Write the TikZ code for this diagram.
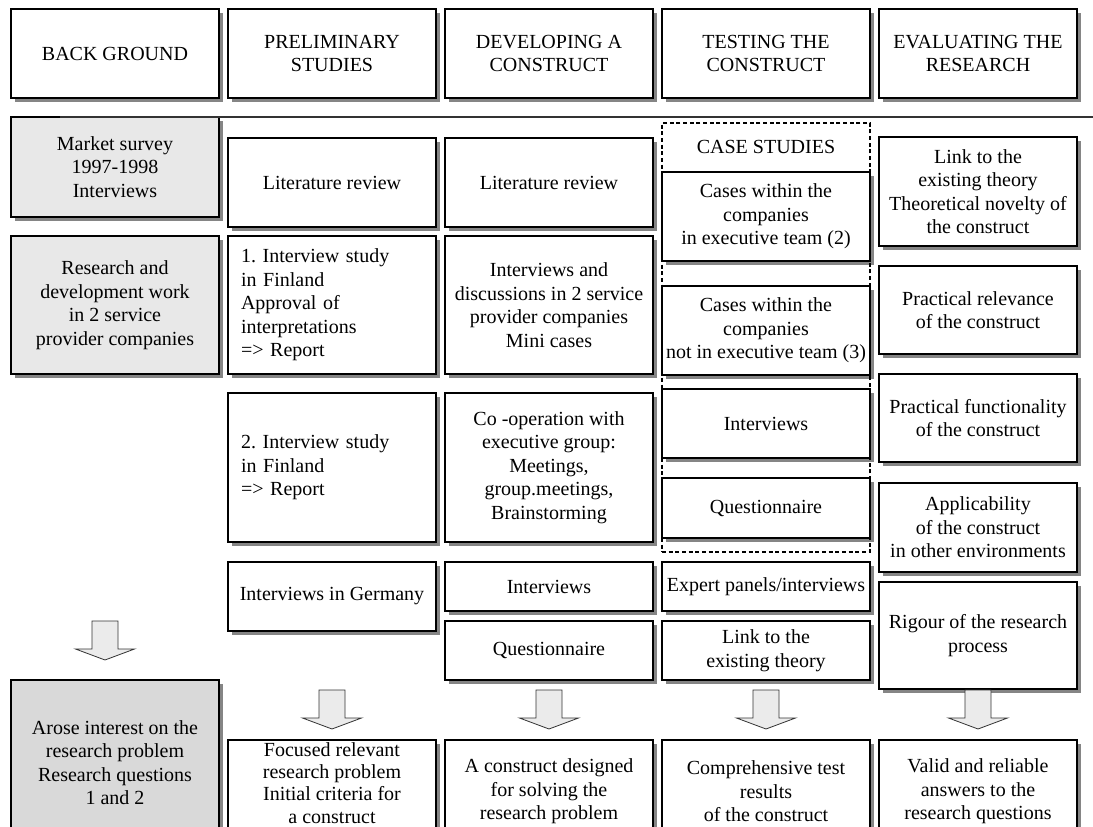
\documentclass[tikz,border=0pt]{standalone}
\usepackage{fontspec}
\setmainfont{Liberation Serif}
\usetikzlibrary{shadows}
\frenchspacing

\newcommand\bodyfont{\fontsize{15pt}{17.6pt}\selectfont}

\tikzset{
  box/.style={draw=black, line width=0.9pt, fill=white, inner sep=0pt,
    align=center, font=\bodyfont,
    drop shadow={shadow xshift=3pt, shadow yshift=-3pt, fill=black!48, opacity=1}},
  lightbox/.style={fill=black!9},
  darkbox/.style={fill=black!15},
  leftbox/.style={align=left, text width=136.5pt},
  label/.style={inner sep=0pt, align=center, font=\bodyfont},
  blockarrow/.style={draw=black!80, line width=0.6pt, fill=black!8},
  caseframe/.style={draw=black, line width=0.8pt, dash pattern=on 3pt off 2pt,
    fill=none, inner sep=0pt},
  rule/.style={draw=black!80, line width=0.8pt},
}

% \bx[options]{name}{x1}{y1}{x2}{y2}{text}  -- box given by its corners (px)
\newcommand\bx[7][]{%
  \node[box,#1,minimum width={(#5-#3)*0.75pt},minimum height={(#6-#4)*0.75pt}]
    (#2) at ({(#3+#5)/2},{(#4+#6)/2}) {#7};}

% \blockdown{centre x}{top y} -- hollow downward block arrow
\newcommand\blockdown[2]{%
  \draw[blockarrow] ({#1-13},#2) -- ({#1+13},#2) -- ({#1+13},{#2+28})
    -- ({#1+29.5},{#2+28}) -- (#1,{#2+39}) -- ({#1-29.5},{#2+28})
    -- ({#1-13},{#2+28}) -- cycle;}

\begin{document}
\begin{tikzpicture}[x=0.75pt, y=-0.75pt]
\useasboundingbox (0,0) rectangle (1093,827);
\fill[white] (0,0) rectangle (1093,827);
\clip (0,0) rectangle (1093,827);

% column headings
\bx{h0}{11}{9}{219}{98}{BACK GROUND}
\bx{h1}{228}{9}{436}{98}{PRELIMINARY\\STUDIES}
\bx{h2}{445}{9}{653}{98}{DEVELOPING A\\CONSTRUCT}
\bx{h3}{662}{9}{870}{98}{TESTING THE\\CONSTRUCT}
\bx{h4}{879}{9}{1077}{98}{EVALUATING THE\\RESEARCH}

% background
\bx[lightbox]{b1}{11}{117}{219}{217}{Market survey\\1997-1998\\Interviews}
\bx[lightbox]{b2}{11}{236}{219}{374}{Research and\\development work\\in 2 service\\provider companies}
\bx[darkbox]{b3}{11}{680}{219}{845}{Arose interest on the\\research problem\\Research questions\\1 and 2}

% separating rule below the headings
\coordinate (ruleL) at (60,117);
\coordinate (ruleR) at (1093,117);
\draw[rule] (ruleL) -- (ruleR);

% preliminary studies
\bx{p1}{228}{138}{436}{227}{Literature review}
\bx[leftbox]{p2}{228}{236}{436}{374}{1. Interview study\\in Finland\\Approval of\\interpretations\\=> Report}
\bx[leftbox]{p3}{228}{393}{436}{542}{2. Interview study\\in Finland\\=> Report}
\bx{p4}{228}{562}{436}{631}{Interviews in Germany}
\bx{p5}{228}{740}{436}{845}{}
\node[label, font=\fontsize{15pt}{16.6pt}\selectfont] (p5text) at (332,783)
  {Focused relevant\\research problem\\Initial criteria for\\a construct};

% developing a construct
\bx{d1}{445}{138}{653}{227}{Literature review}
\bx{d2}{445}{236}{653}{374}{Interviews and\\discussions in 2 service\\provider companies\\Mini cases}
\bx{d3}{445}{393}{653}{542}{Co -operation with\\executive group:\\Meetings,\\group.meetings,\\Brainstorming}
\bx{d4}{445}{562}{653}{611}{Interviews}
\bx{d5}{445}{621}{653}{680}{Questionnaire}
\bx{d6}{445}{740}{653}{843}{A construct designed\\for solving the\\research problem}

% testing the construct
\node[label] (casehead) at (766,147) {CASE STUDIES};
\bx{t1}{662}{172}{870}{261}{Cases within the\\companies\\in executive team (2)}
\bx{t2}{662}{286}{870}{375}{Cases within the\\companies\\not in executive team (3)}
\bx{t3}{662}{389}{870}{458}{Interviews}
\bx{t4}{662}{478}{870}{538}{Questionnaire}
\node[caseframe, minimum width={208*0.75pt}, minimum height={429*0.75pt}]
  (cases) at (766,337.5) {};
\bx{t5}{662}{562}{870}{611}{Expert panels/interviews}
\bx{t6}{662}{621}{870}{680}{Link to the\\existing theory}
\bx{t7}{662}{740}{870}{843}{Comprehensive test\\results\\of the construct}

% evaluating the research
\bx{e1}{879}{137}{1077}{246}{Link to the\\existing theory\\Theoretical novelty of\\the construct}
\bx{e2}{879}{266}{1077}{354}{Practical relevance\\of the construct}
\bx{e3}{879}{374}{1077}{462}{Practical functionality\\of the construct}
\bx{e4}{879}{483}{1077}{572}{Applicability\\of the construct\\in other environments}
\bx{e5}{879}{582}{1077}{689}{Rigour of the research\\process}
\bx{e6}{879}{740}{1077}{843}{Valid and reliable\\answers to the\\research questions}

% outcome arrows
\blockdown{105}{621}
\blockdown{332}{690}
\blockdown{549}{690}
\blockdown{766}{690}
\blockdown{978}{690}
\end{tikzpicture}
\end{document}
